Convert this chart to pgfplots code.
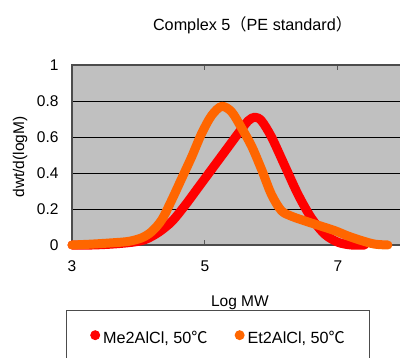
\documentclass[border=0pt]{standalone}
\usepackage{fontspec}
\setmainfont{Liberation Sans}
\newfontfamily\cjk{Noto Sans CJK JP}
\usepackage{pgfplots}
\pgfplotsset{compat=1.18}
\definecolor{orng}{HTML}{FF6600}
\definecolor{bgray}{HTML}{C0C0C0}
\newcommand\cf{\fontsize{15.5bp}{18bp}\selectfont}
\newcommand\cg{\fontsize{16.2bp}{19bp}\selectfont}
\begin{document}
\begin{tikzpicture}
\useasboundingbox (0,0) rectangle (400bp,358bp);
\clip (0,0) rectangle (400bp,358bp);
\begin{axis}[
  at={(72bp,113bp)}, anchor=south west,
  scale only axis, width=332.5bp, height=180bp,
  xmin=3, xmax=8, ymin=0, ymax=1,
  clip=false,
  xtick={3,5,7}, ytick={0,0.2,0.4,0.6,0.8,1},
  /pgf/number format/assume math mode=true,
  axis background/.style={fill=bgray},
  ymajorgrids, grid style={black, line width=0.8bp},
  axis line style={black!70, line width=1.8bp},
  xtick align=inside, major tick length=5bp,
  xtick style={black!65, line width=1bp},
  ytick style={draw=none},
  tick label style={font=\cf},
  xticklabel style={yshift=-12bp},
  yticklabel style={xshift=-10bp},
  label style={font=\cf},
  title style={font=\cg, at={(axis description cs:0.543,1.19)}, anchor=center},
  title={Complex 5{\cjk （}PE standard{\cjk ）}},
  xlabel={Log MW},
  xlabel style={at={(axis description cs:0.505,-0.322)}, anchor=center},
  ylabel={dwt/d(logM)},
  ylabel style={at={(axis description cs:-0.156,0.489)}, anchor=center},
  legend columns=2,
  legend style={font=\cg, at={(axis description cs:-0.018,-0.361)}, anchor=north west,
    draw=black!70, fill=white, inner xsep=24bp, inner ysep=20bp,
    nodes={inner sep=0pt},
    /tikz/every odd column/.append style={column sep=3bp},
    /tikz/every even column/.append style={column sep=27bp}},
  legend image code/.code={\fill[draw=none] (5bp,3bp) circle (5bp);},
]
\addplot[color=red, line width=9bp, smooth, line cap=round, line join=round] coordinates {
(3.0,0.00) (3.3,0.00) (3.6,0.005) (3.9,0.015) (4.1,0.03) (4.3,0.07) (4.5,0.13)
(4.7,0.22) (4.9,0.32) (5.1,0.42) (5.3,0.52) (5.5,0.62) (5.65,0.69) (5.75,0.71)
(5.85,0.69) (6.0,0.60) (6.2,0.44) (6.4,0.28) (6.6,0.15) (6.8,0.06) (7.0,0.015)
(7.2,0.00) (7.4,0.00)
};
\addlegendentry{Me2AlCl, 50{\cjk ℃}}
\addplot[color=orng, line width=9bp, smooth, line cap=round, line join=round] coordinates {
(3.0,0.000) (3.3,0.005) (3.6,0.012) (3.85,0.020) (4.05,0.040) (4.2,0.075) (4.35,0.14)
(4.5,0.25) (4.65,0.37) (4.8,0.49) (4.95,0.62) (5.1,0.72) (5.25,0.77) (5.4,0.74)
(5.55,0.65) (5.7,0.55) (5.85,0.42) (6.0,0.28) (6.15,0.19) (6.3,0.16) (6.45,0.14)
(6.7,0.11) (6.95,0.08) (7.15,0.05) (7.35,0.025) (7.55,0.005) (7.75,0.00)
};
\addlegendentry{Et2AlCl, 50{\cjk ℃}}
\end{axis}
\end{tikzpicture}
\end{document}
